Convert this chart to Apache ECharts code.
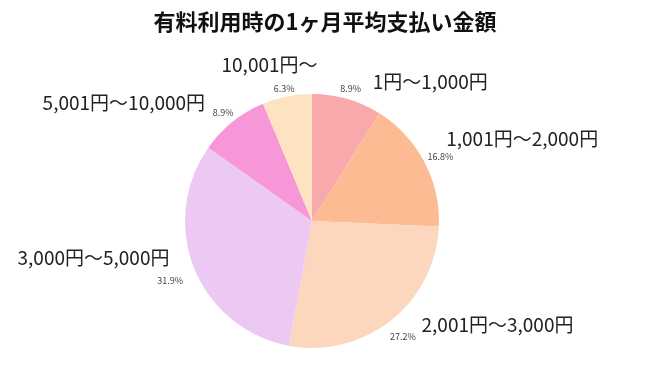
<!DOCTYPE html>
<html><head><meta charset="utf-8">
<script src="https://cdn.jsdelivr.net/npm/echarts@6/dist/echarts.min.js"></script>
<style>html,body{margin:0;padding:0;background:#fff}#c{width:650px;height:366px}</style>
</head><body><div id="c"></div>
<script>
const categories = ['1円〜1,000円','1,001円〜2,000円','2,001円〜3,000円','3,000円〜5,000円','5,001円〜10,000円','10,001円〜'];
const shares = [8.9, 16.8, 27.2, 31.9, 8.9, 6.3];
const colors = ['#F9A9AB','#FDBB93','#FDD6BE','#EBC9F3','#F797D7','#FEE3C3'];
const title = '有料利用時の1ヶ月平均支払い金額';

const font = '"Noto Sans CJK JP","Noto Sans",sans-serif';
const catOffsets = [[13,10],[-8,-10],[8,-17],[6,-22],[-5,3],[41,-4]];
const pctOffsets = [[-11,-3],[-6,-2],[-8,10],[-2,9],[8,-3],[11,0]];
const data = categories.map((n,i)=>({name:n,value:shares[i],itemStyle:{color:colors[i]}}));
const chart = echarts.init(document.getElementById('c'),null,{renderer:'canvas'});
chart.setOption({
  animation:false,
  title:{text:title,left:'center',top:6,textStyle:{fontFamily:font,fontSize:22,fontWeight:'bold',color:'#111'}},
  series:[
    {type:'pie',center:[312,221],radius:[0,127],startAngle:90,clockwise:true,
     data:data,silent:true,
     label:{show:true,position:'outside',formatter:'{c}%',fontSize:9,color:'#444',fontFamily:font,distanceToLabelLine:2},
     labelLine:{show:false,length:8,length2:0},
     labelLayout:function(p){const o=pctOffsets[p.dataIndex];return {dx:o[0],dy:o[1]};}},
    {type:'pie',center:[312,221],radius:[0,127],startAngle:90,clockwise:true,z:1,
     data:data.map(d=>({name:d.name,value:d.value,itemStyle:{color:'transparent'}})),silent:true,
     label:{show:true,position:'outside',formatter:'{b}',fontSize:19,color:'#222',fontFamily:font,distanceToLabelLine:5},
     labelLine:{show:false,length:28,length2:0},
     labelLayout:function(p){const o=catOffsets[p.dataIndex];return {dx:o[0],dy:o[1]};}}
  ]
});
</script></body></html>
